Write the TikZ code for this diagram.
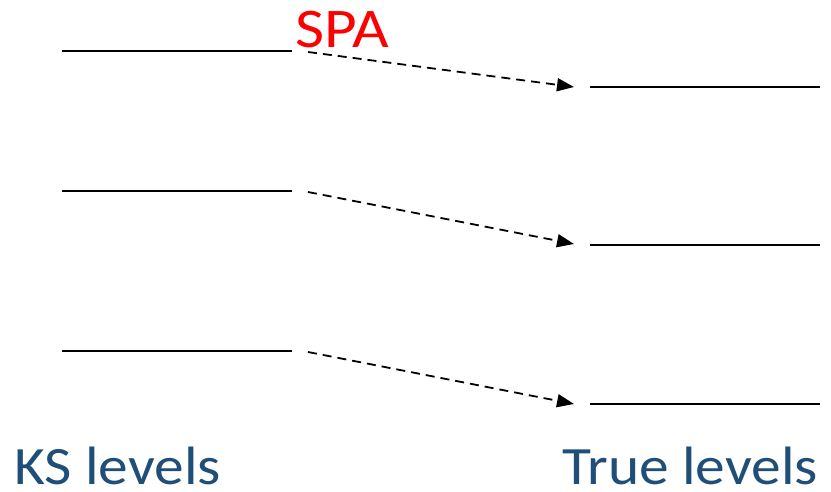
\documentclass[tikz,border=0pt]{standalone}
\usepackage{fontspec}
\setmainfont{Carlito}
\usetikzlibrary{arrows.meta}
\definecolor{lvlblue}{HTML}{1F4E79}
\tikzset{
  level/.style={line width=2pt},
  spaarrow/.style={line width=1.8pt, dash pattern=on 9pt off 6pt, -{Triangle[length=17pt,width=13pt]}},
  caption/.style={text=lvlblue, font=\fontsize{54}{60}\selectfont, inner sep=0pt, xscale=1.1},
}
\begin{document}
\begin{tikzpicture}[x=1pt,y=-1pt]
\useasboundingbox (0,0) rectangle (831,492);
% KS levels (left)
\foreach \n/\y in {1/51,2/191,3/351}{
  \coordinate (kl\n) at (62,\y);
  \coordinate (kr\n) at (292,\y);
  \draw[level] (kl\n) -- (kr\n);
}
% true levels (right)
\foreach \n/\y in {1/87,2/245,3/404}{
  \coordinate (tl\n) at (590,\y);
  \coordinate (tr\n) at (820,\y);
  \draw[level] (tl\n) -- (tr\n);
}
% arrows between corresponding levels
\foreach \n/\a/\b in {1/52/87,2/192/244,3/352/404}{
  \coordinate (s\n) at (308,\a);
  \coordinate (e\n) at (574,\b);
  \draw[spaarrow] (s\n) -- (e\n);
}
\node[text=red, font=\fontsize{56}{60}\selectfont, inner sep=0pt, xscale=1.13, anchor=base west] (spa) at (295,48) {SPA};
\node[caption, anchor=base west] (ks) at (14,484) {KS levels};
\node[caption, anchor=base east] (true) at (818,484) {True levels};
\end{tikzpicture}
\end{document}
